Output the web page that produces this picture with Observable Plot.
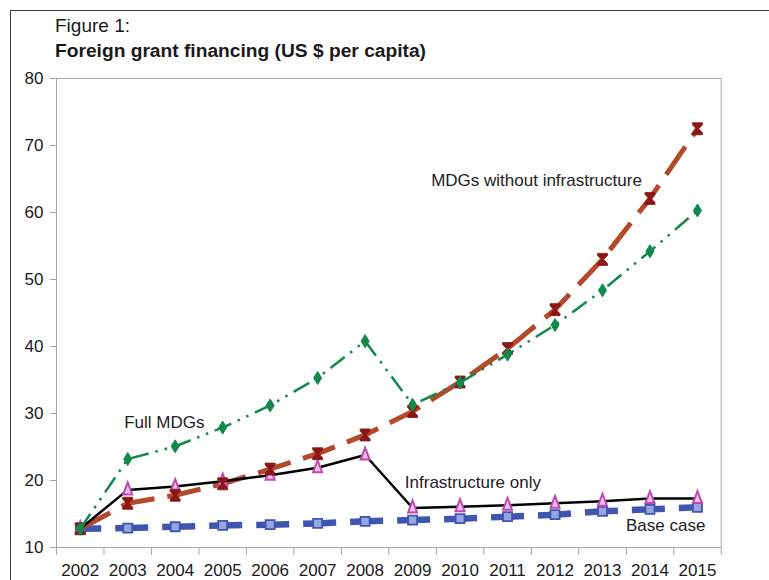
<!DOCTYPE html>
<html>
<head>
<meta charset="utf-8">
<script src="https://cdn.jsdelivr.net/npm/d3@7"></script>
<script src="https://cdn.jsdelivr.net/npm/@observablehq/plot@0.6"></script>
<style>
  body { margin: 0; background: #fff; }
  #wrap { position: relative; width: 769px; height: 580px; overflow: hidden;
          font-family: "Liberation Sans", Arial, sans-serif; color: #1a1a1a; }
  #border { position: absolute; left: 10px; top: 10px; width: 900px; height: 900px;
            border: 1.5px solid #3c3c3c; box-sizing: border-box; }
  #header { position: relative; height: 68px; padding: 13px 0 0 55px; box-sizing: border-box;
            font-size: 19px; line-height: 25px; }
  #header .t2 { font-weight: bold; font-size: 19.2px; }
  #chart { position: relative; }
</style>
</head>
<body>
<div id="wrap">
  <div id="border"></div>
  <div id="header">
    <div class="t1">Figure 1:</div>
    <div class="t2">Foreign grant financing (US $ per capita)</div>
  </div>
  <div id="chart"></div>
</div>
<script>
// ---- data ----
const years = ["2002","2003","2004","2005","2006","2007","2008","2009","2010","2011","2012","2013","2014","2015"];
const baseCase    = [12.8, 12.9, 13.1, 13.3, 13.4, 13.6, 13.9, 14.1, 14.3, 14.6, 14.9, 15.4, 15.7, 16.0];
const fullMDGs    = [12.8, 23.2, 25.1, 27.9, 31.2, 35.3, 40.8, 31.3, 34.6, 38.8, 43.2, 48.4, 54.2, 60.3];
const infraOnly   = [12.8, 18.6, 19.1, 19.9, 20.8, 21.9, 23.8, 15.9, 16.1, 16.3, 16.6, 16.9, 17.3, 17.3];
const mdgsNoInfra = [12.8, 16.6, 17.8, 19.5, 21.7, 24.0, 26.8, 30.3, 34.7, 39.7, 45.5, 53.0, 62.1, 72.5];
const yTicks = [10, 20, 30, 40, 50, 60, 70, 80];
const seriesNames = ["Base case", "Full MDGs", "Infrastructure only", "MDGs without infrastructure"];

// label placement (in chart units: year-slot index, value)
const labels = [
  {text: seriesNames[1], x: 2.27, y: 28.7},
  {text: seriesNames[3], x: 10.11, y: 64.8},
  {text: seriesNames[2], x: 8.77, y: 19.7},
  {text: seriesNames[0], x: 12.83, y: 13.3}
];

const rows = (vals) => years.map((year, i) => ({year, x: i + 0.5, v: vals[i]}));

// ---- custom marker symbols ----
const diamondTall = { draw(ctx) { ctx.moveTo(0, -6.5); ctx.lineTo(4, 0); ctx.lineTo(0, 6.5); ctx.lineTo(-4, 0); ctx.closePath(); } };
const hourglass = { draw(ctx) {
  ctx.moveTo(-5, -6); ctx.lineTo(5, -6); ctx.lineTo(5, -4); ctx.lineTo(1.2, 0); ctx.lineTo(5, 4);
  ctx.lineTo(5, 6); ctx.lineTo(-5, 6); ctx.lineTo(-5, 4); ctx.lineTo(-1.2, 0); ctx.lineTo(-5, -4); ctx.closePath(); } };
const triUp = { draw(ctx) { ctx.moveTo(0, -7.5); ctx.lineTo(4.5, 4.5); ctx.lineTo(-4.5, 4.5); ctx.closePath(); } };
const squareM = { draw(ctx) { ctx.rect(-4.5, -4.5, 9, 9); } };

const blue = "#3f55b0", brown = "#b3492a", darkRed = "#8a1616", green = "#10894a", magenta = "#c048b0";

const chart = Plot.plot({
  width: 769,
  height: 512,
  marginLeft: 56,
  marginRight: 48.3,
  marginTop: 10,
  marginBottom: 33,
  style: {fontFamily: "'Liberation Sans', Arial, sans-serif", background: "transparent", color: "#1a1a1a"},
  x: {type: "linear", domain: [0, years.length]},
  y: {type: "linear", domain: [10, 80]},
  marks: [
    Plot.frame({stroke: "#a8a8a8"}),
    Plot.axisY({ticks: yTicks, tickSize: 6, tickPadding: 7, fontSize: 17, stroke: "#a8a8a8", fill: "#1a1a1a", label: null}),
    Plot.axisX({ticks: d3.range(0, years.length + 1), tickSize: 8, tickFormat: () => "", stroke: "#a8a8a8", label: null}),
    Plot.axisX({ticks: years.map((d, i) => i + 0.5), tickSize: 0, tickPadding: 16, fontSize: 17,
                tickFormat: (d) => years[Math.floor(d)], fill: "#1a1a1a", label: null}),
    // Base case
    Plot.line(rows(baseCase), {x: "x", y: "v", stroke: blue, strokeWidth: 6.5, strokeDasharray: "33,14", strokeDashoffset: 12, strokeLinecap: "butt"}),
    Plot.dot(rows(baseCase), {x: "x", y: "v", symbol: squareM, fill: "#97a6df", stroke: blue, strokeWidth: 1.8}),
    // MDGs without infrastructure
    Plot.line(rows(mdgsNoInfra), {x: "x", y: "v", stroke: brown, strokeWidth: 5, strokeDasharray: "34,13", strokeDashoffset: 0, strokeLinecap: "butt"}),
    // Infrastructure only
    Plot.line(rows(infraOnly), {x: "x", y: "v", stroke: "#000", strokeWidth: 2.5}),
    Plot.dot(rows(infraOnly), {x: "x", y: "v", symbol: triUp, fill: "#efc3ea", stroke: magenta, strokeWidth: 2}),
    Plot.dot(rows(mdgsNoInfra), {x: "x", y: "v", symbol: hourglass, fill: darkRed, stroke: darkRed, strokeWidth: 0.8}),
    // Full MDGs
    Plot.line(rows(fullMDGs), {x: "x", y: "v", stroke: green, strokeWidth: 2.5, strokeDasharray: "18,7,2.5,7,2.5,7", strokeLinecap: "butt"}),
    Plot.dot(rows(fullMDGs), {x: "x", y: "v", symbol: diamondTall, fill: green, stroke: green, strokeWidth: 1}),
    // series labels
    Plot.text(labels, {x: "x", y: "y", text: "text", fontSize: 17, fill: "#222", textAnchor: "middle"})
  ]
});
document.getElementById("chart").appendChild(chart);
</script>
</body>
</html>
